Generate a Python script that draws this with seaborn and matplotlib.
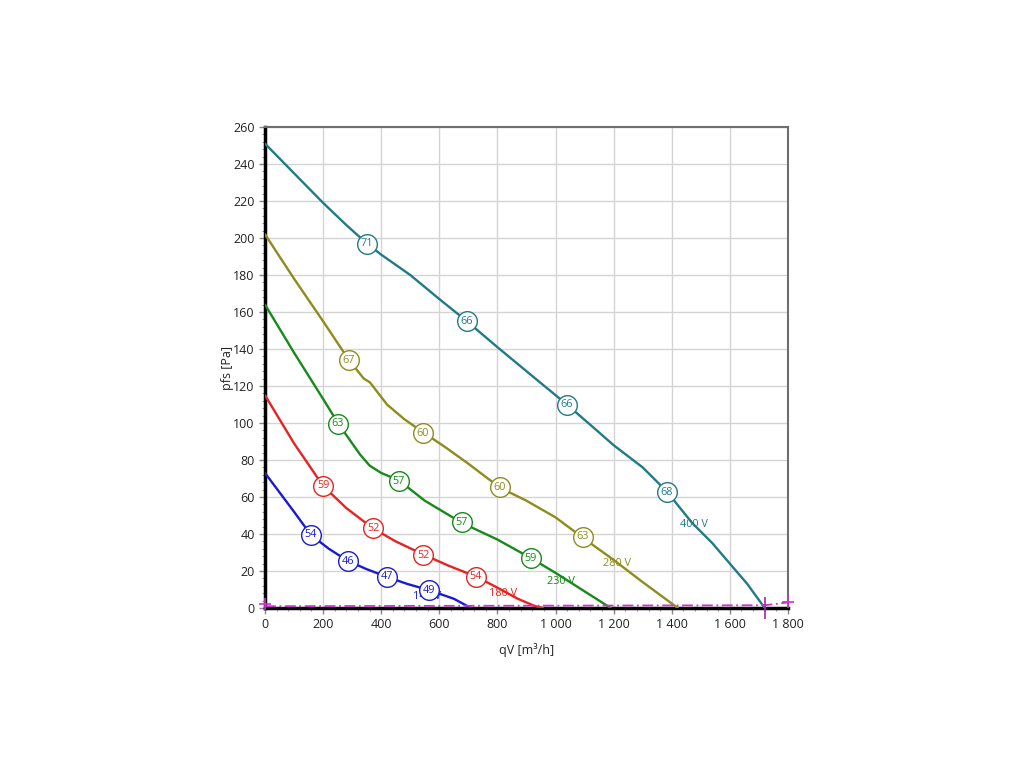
import numpy as np
import pandas as pd
import matplotlib
matplotlib.use("Agg")
import matplotlib.pyplot as plt
import seaborn as sns
from matplotlib.ticker import MultipleLocator, FuncFormatter

# ---- data ----
series_names = ["400 V", "280 V", "230 V", "180 V", "140 V"]

q_400 = [0, 100, 200, 280, 351, 400, 500, 600, 695, 800, 900, 1039, 1120, 1200, 1300, 1383, 1470, 1540, 1600, 1660, 1720]
p_400 = [251, 235, 219, 207, 197, 191, 180, 167, 155, 141, 128, 110, 99, 88, 76, 63, 46, 35, 24, 13, 0]

q_280 = [0, 100, 200, 289, 340, 361, 420, 480, 544, 620, 700, 809, 900, 1000, 1094, 1200, 1300, 1421]
p_280 = [202, 178, 155, 134, 124, 122, 110, 102, 95, 87, 78, 65, 58, 49, 38, 26, 14, 0]

q_230 = [0, 100, 200, 251, 300, 327, 360, 400, 461, 550, 678, 800, 915, 1000, 1100, 1190]
p_230 = [164, 138, 113, 100, 89, 83, 77, 73, 69, 58, 46, 37, 27, 19, 9, 0]

q_180 = [0, 100, 200, 280, 372, 450, 544, 630, 726, 800, 870, 930, 957]
p_180 = [115, 89, 66, 54, 43, 36, 29, 23, 17, 11, 5, 1, 0]

q_140 = [0, 100, 158, 220, 286, 350, 420, 490, 564, 650, 709]
p_140 = [73, 52, 39.5, 32, 25.4, 21, 16.8, 13, 9.7, 5, 0]

# marker labels on each curve (value, q, p)
mk_400 = [(71, 351, 196.8), (66, 695, 155), (66, 1039, 110), (68, 1383, 62.7)]
mk_280 = [(67, 289, 134), (60, 544, 94.6), (60, 809, 65.4), (63, 1094, 38.4)]
mk_230 = [(63, 251, 99.5), (57, 461, 68.6), (57, 678, 46.5), (59, 915, 27)]
mk_180 = [(59, 200, 66), (52, 372, 43.2), (52, 544, 28.6), (54, 726, 16.8)]
mk_140 = [(54, 158, 39.5), (46, 286, 25.4), (47, 420, 16.8), (49, 564, 9.7)]

# voltage label anchor points
lbl_q = [1477, 1211, 1018, 819, 557]
lbl_p = [44.9, 24.3, 14.6, 7.6, 6.5]

# system line
sys_q = [0, 1720, 1800]
sys_p = [1, 1.5, 3]

x_ticks = list(range(0, 1801, 200))
y_ticks = list(range(0, 261, 20))

colors = {"400 V": "#217a88", "280 V": "#8e8c1c", "230 V": "#178a1a",
          "180 V": "#e62222", "140 V": "#1a1ad0"}

# ---- build tables ----
curves = {"400 V": (q_400, p_400), "280 V": (q_280, p_280), "230 V": (q_230, p_230),
          "180 V": (q_180, p_180), "140 V": (q_140, p_140)}
marks = {"400 V": mk_400, "280 V": mk_280, "230 V": mk_230, "180 V": mk_180, "140 V": mk_140}

df = pd.concat([pd.DataFrame({"q": q, "p": p, "series": n}) for n, (q, p) in curves.items()],
               ignore_index=True)
dm = pd.concat([pd.DataFrame({"v": [m[0] for m in mk], "q": [m[1] for m in mk],
                              "p": [m[2] for m in mk], "series": n}) for n, mk in marks.items()],
               ignore_index=True)

sns.set_theme(style="white")
plt.rcParams['font.family'] = ['Open Sans', 'DejaVu Sans']

fig = plt.figure(figsize=(10.24, 7.68), dpi=100)
ax = fig.add_axes([0.2588, 0.2083, 0.5107, 0.6263])

ax.grid(True, which="major", color="#d4d4d4", lw=1.0, zorder=0)
ax.set_axisbelow(True)

sns.lineplot(data=df, x="q", y="p", hue="series", palette=colors, sort=False,
             estimator=None, legend=False, linewidth=1.7, ax=ax, zorder=3)

# system curve
ax.plot(sys_q, sys_p, color="#cc33cc", lw=1.3, linestyle=(0, (6, 2, 1, 2)), zorder=4,
        clip_on=False)
ax.plot([sys_q[0], sys_q[-1]], [sys_p[0] + 1, sys_p[-1]], linestyle="none", marker="+",
        color="#cc33cc", markersize=9, mew=1.2, clip_on=False, zorder=5)
ax.plot([sys_q[1]], [0], linestyle="none", marker="|", color="#aa22aa", markersize=16,
        mew=1.2, clip_on=False, zorder=5)

# markers
for n in series_names:
    sub = dm[dm.series == n]
    sns.scatterplot(data=sub, x="q", y="p", s=200, facecolor="white",
                    edgecolor=colors[n], linewidth=1.0, ax=ax, zorder=6, legend=False)
    for _, r in sub.iterrows():
        ax.text(r.q, r.p, f"{int(r.v)}", color=colors[n], fontsize=7.8,
                ha="center", va="center", zorder=7)

for n, lq, lp in zip(series_names, lbl_q, lbl_p):
    ax.text(lq, lp, n, color=colors[n], fontsize=7.8, ha="center", va="center", zorder=5)

ax.set_xlim(0, 1800)
ax.set_ylim(0, 260)
ax.set_xticks(x_ticks)
ax.set_yticks(y_ticks)
ax.xaxis.set_minor_locator(MultipleLocator(40))
ax.yaxis.set_minor_locator(MultipleLocator(4))
ax.xaxis.set_major_formatter(FuncFormatter(lambda v, _: f"{int(v):,}".replace(",", " ")))
ax.tick_params(axis="both", which="major", length=4, width=1, color="#888888",
               labelsize=9, labelcolor="#222222", direction="out", left=True, bottom=True)
ax.tick_params(axis="both", which="minor", length=2.5, width=0.8, color="#999999",
               direction="out", left=True, bottom=True)

for s in ["left", "bottom"]:
    ax.spines[s].set_color("black")
    ax.spines[s].set_linewidth(2.5)
for s in ["top", "right"]:
    ax.spines[s].set_color("#6e6e6e")
    ax.spines[s].set_linewidth(1.5)

ax.set_xlabel("qV [m³/h]", fontsize=9, color="#222222", labelpad=8)
ax.set_ylabel("pfs [Pa]", fontsize=9, color="#222222", labelpad=-1)

fig.savefig("out.png", dpi=100)
